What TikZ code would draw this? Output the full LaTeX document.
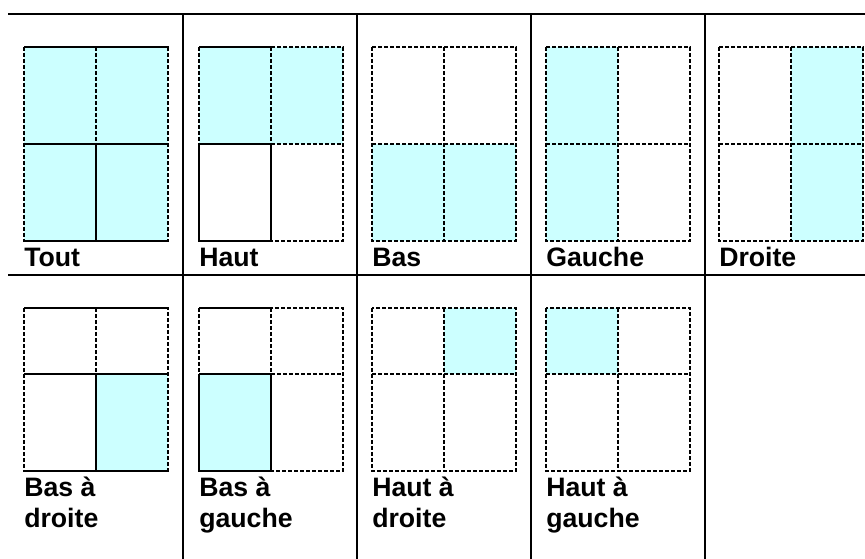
\documentclass[tikz,border=0pt]{standalone}
\usepackage{fontspec}
\setmainfont{Liberation Sans}
\usetikzlibrary{positioning}
\definecolor{selfill}{HTML}{CCFFFF}
\tikzset{
  tabrule/.style={line width=2.2pt,draw=black},
  gridline/.style={line width=1.9pt,draw=black,dash pattern=on 3.2pt off 1.3pt},
  solidline/.style={line width=2.1pt,draw=black},
  pagelabel/.style={font=\bfseries\fontsize{20}{23.25}\selectfont,anchor=base west,
    inner sep=0pt,align=left}
}
\begin{document}
\begin{tikzpicture}[x=0.75pt,y=-0.75pt]
  \useasboundingbox (0,0) rectangle (865,559);
  % table rules
  \draw[tabrule] (8,14) -- (865,14);
  \draw[tabrule] (8,275) -- (865,275);
  \foreach \cx in {183,357,531,705}
    \draw[tabrule] (\cx,14) -- (\cx,559);
  % pages: left, top, upper row height, filled cells, solid mode, label baseline, label
  \foreach \px/\py/\ht/\cells/\mode/\lb/\txt [count=\n] in {
      24/47/97/{0/0,1/0,0/1,1/1}/1/267/Tout,
      199/47/97/{0/0,1/0}/2/267/Haut,
      372/47/97/{0/1,1/1}/0/267/Bas,
      546/47/97/{0/0,0/1}/0/267/Gauche,
      719/47/97/{1/0,1/1}/0/267/Droite,
      24/308/66/{1/1}/1/528/{Bas à\\droite},
      199/308/66/{0/1}/2/528/{Bas à\\gauche},
      372/308/66/{1/0}/0/528/{Haut à\\droite},
      546/308/66/{0/0}/0/528/{Haut à\\gauche}}{
    \foreach \i/\j in \cells
      \fill[selfill] (\px+72*\i,\py+\ht*\j) rectangle ++(72,\ht+\j*97-\j*\ht);
    \draw[gridline] (\px,\py) rectangle ++(144,\ht+97);
    \draw[gridline] (\px,\py+\ht) -- ++(144,0);
    \draw[gridline] (\px+72,\py) -- ++(0,\ht+97);
    \ifnum\mode=1
      \draw[solidline] (\px,\py) -- ++(144,0) (\px,\py+\ht) -- ++(144,0)
        (\px,\py+\ht+97) -- ++(144,0) (\px+72,\py+\ht) -- ++(0,97);
    \fi
    \ifnum\mode=2
      \draw[solidline] (\px,\py) -- ++(72,0) (\px,\py+\ht) -- ++(72,0)
        (\px,\py+\ht+97) -- ++(72,0) (\px,\py+\ht) -- ++(0,97)
        (\px+72,\py+\ht) -- ++(0,97);
    \fi
    \node[pagelabel] (lbl\n) at (\px,\lb) {\txt};
  }
\end{tikzpicture}
\end{document}
